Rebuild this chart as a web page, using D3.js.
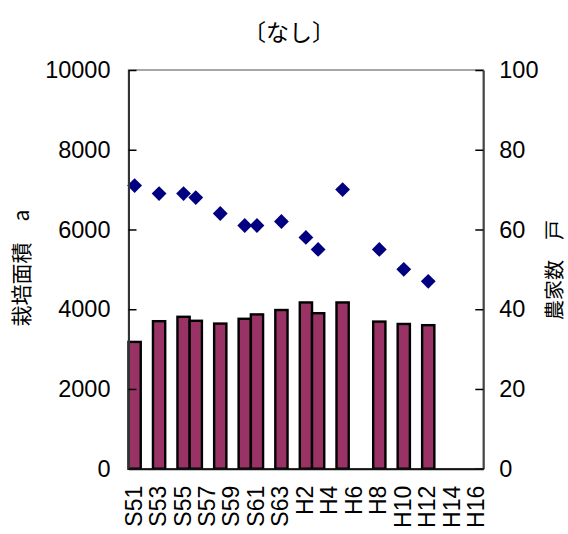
<!DOCTYPE html>
<html>
<head>
<meta charset="utf-8">
<script src="https://cdn.jsdelivr.net/npm/d3@7"></script>
<style>
  html, body { margin: 0; padding: 0; background: #fff; }
  svg { display: block; }
  text { font-family: "Liberation Sans", Arial, "Noto Sans CJK JP", sans-serif; fill: #000; }
  .jp { font-family: "Noto Sans CJK JP", "Liberation Sans", sans-serif; }
</style>
</head>
<body>
<svg id="chart" width="568" height="534"></svg>
<script>
// Fiscal years (Showa 51 – Heisei 16)
const categories = [
  "S51","S52","S53","S54","S55","S56","S57","S58","S59","S60","S61","S62","S63",
  "H1","H2","H3","H4","H5","H6","H7","H8","H9","H10","H11","H12","H13","H14","H15","H16"
];
// Cultivated area (a), left axis
const areaValues = [
  3180, null, 3700, null, 3810, 3710, null, 3640, null, 3760, 3870, null, 3980,
  null, 4170, 3900, null, 4170, null, null, 3690, null, 3630, null, 3600, null, null, null, null
];
// Number of farm households, right axis
const farmValues = [
  71, null, 69, null, 69, 68, null, 64, null, 61, 61, null, 62,
  null, 58, 55, null, 70, null, null, 55, null, 50, null, 47, null, null, null, null
];
const leftTicks = [0, 2000, 4000, 6000, 8000, 10000];
const rightTicks = [0, 20, 40, 60, 80, 100];
const xTickLabels = categories.filter((d, i) => i % 2 === 0);

const title = "〔なし〕";
const leftTitle = "栽培面積　a";
const rightTitle = "農家数　戸";

const svg = d3.select("#chart");
const plot = { left: 128.5, right: 483.3, top: 70, bottom: 468.7 };

const x = d3.scaleBand().domain(categories).range([plot.left, plot.right]).padding(0);
const yL = d3.scaleLinear().domain([0, 10000]).range([plot.bottom, plot.top]);
const yR = d3.scaleLinear().domain([0, 100]).range([plot.bottom, plot.top]);

// plot frame
svg.append("rect")
  .attr("x", plot.left).attr("y", plot.top)
  .attr("width", plot.right - plot.left).attr("height", plot.bottom - plot.top)
  .attr("fill", "none").attr("stroke", "#8a8a8a").attr("stroke-width", 1.5);

// bars
svg.append("g").selectAll("rect")
  .data(categories.map((c, i) => ({ c, v: areaValues[i] })).filter(d => d.v != null))
  .join("rect")
  .attr("x", d => x(d.c))
  .attr("y", d => yL(d.v))
  .attr("width", x.bandwidth())
  .attr("height", d => yL(0) - yL(d.v))
  .attr("fill", "#993366")
  .attr("stroke", "#000")
  .attr("stroke-width", 2.4);

// markers
const diamond = d3.symbol().type(d3.symbolSquare).size(110);
svg.append("g").selectAll("path")
  .data(categories.map((c, i) => ({ c, v: farmValues[i] })).filter(d => d.v != null))
  .join("path")
  .attr("d", diamond)
  .attr("transform", d => `translate(${x(d.c) + x.bandwidth() / 2},${yR(d.v)}) rotate(45)`)
  .attr("fill", "#000080");

// left axis
const gL = svg.append("g")
  .attr("transform", `translate(${plot.left},0)`)
  .call(d3.axisLeft(yL).tickValues(leftTicks).tickSizeInner(-8).tickSizeOuter(0).tickPadding(18).tickFormat(d => d));
gL.select(".domain").attr("stroke", "#333").attr("stroke-width", 2);
gL.selectAll(".tick line").attr("stroke", "#000").attr("stroke-width", 1.5);
gL.selectAll(".tick text").attr("font-size", 23.5).attr("font-family", "Liberation Sans, Arial, sans-serif");

// right axis
const gR = svg.append("g")
  .attr("transform", `translate(${plot.right},0)`)
  .call(d3.axisRight(yR).tickValues(rightTicks).tickSizeInner(-8).tickSizeOuter(0).tickPadding(16).tickFormat(d => d));
gR.select(".domain").attr("stroke", "#444").attr("stroke-width", 2);
gR.selectAll(".tick line").attr("stroke", "#000").attr("stroke-width", 1.5);
gR.selectAll(".tick text").attr("font-size", 23.5).attr("font-family", "Liberation Sans, Arial, sans-serif");

// bottom axis
const gB = svg.append("g")
  .attr("transform", `translate(0,${plot.bottom})`)
  .call(d3.axisBottom(x).tickValues(xTickLabels).tickSize(0).tickPadding(0));
gB.select(".domain").attr("stroke", "#111").attr("stroke-width", 2);
gB.selectAll(".tick text")
  .attr("font-size", 23)
  .attr("font-family", "Liberation Sans, Arial, sans-serif")
  .attr("text-anchor", "end")
  .attr("dy", null)
  .attr("y", 0)
  .attr("transform", "translate(-1,17) rotate(-90)")
  .attr("dominant-baseline", "central");

// title
svg.append("text")
  .attr("class", "jp")
  .attr("x", 289).attr("y", 31)
  .attr("text-anchor", "middle").attr("dominant-baseline", "central")
  .attr("font-size", 23)
  .text(title);

// axis titles
svg.append("text")
  .attr("class", "jp")
  .attr("transform", `translate(20,268) rotate(-90)`)
  .attr("text-anchor", "middle").attr("dominant-baseline", "central")
  .attr("font-size", 21)
  .text(leftTitle);

svg.append("text")
  .attr("class", "jp")
  .attr("transform", `translate(553,270) rotate(-90)`)
  .attr("text-anchor", "middle").attr("dominant-baseline", "central")
  .attr("font-size", 20)
  .text(rightTitle);
</script>
</body>
</html>
